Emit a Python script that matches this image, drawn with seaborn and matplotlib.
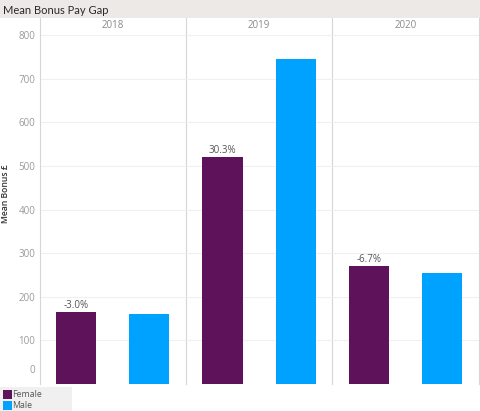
import matplotlib
matplotlib.use("Agg")
import matplotlib.pyplot as plt
import matplotlib.transforms as mtransforms
from matplotlib.patches import Rectangle
import seaborn as sns
import pandas as pd

years = ["2018", "2019", "2020"]
genders = ["Female", "Male"]
female_bonus = [164, 520, 270]
male_bonus = [160, 745, 254]
gap_labels = ["-3.0%", "30.3%", "-6.7%"]
y_ticks = [0, 100, 200, 300, 400, 500, 600, 700, 800]

colors = {"Female": "#5E1259", "Male": "#00A2FF"}

sns.set_theme(style="white")
plt.rcParams['font.family'] = ['Open Sans', 'DejaVu Sans']

W, H = 480, 411
fig = plt.figure(figsize=(W / 100, H / 100), dpi=100)
fig.patch.set_facecolor("white")

# title bar
fig.patches.append(Rectangle((0, 1 - 18 / H), 1, 18 / H, transform=fig.transFigure,
                             facecolor="#ECE9E6", edgecolor="none", zorder=0))
fig.text(3 / W, 1 - 10 / H, "Mean Bonus Pay Gap", ha="left", va="center",
         fontsize=8, color="#2A2A2A", family=["Lato", "DejaVu Sans"])

left_px, right_px = 39.5, 478.7
top_px, bottom_px = 18, 384
panel_w = (right_px - left_px) / 3
ymax = 839

axes = []
for i, yr in enumerate(years):
    ax = fig.add_axes([(left_px + i * panel_w) / W, 1 - bottom_px / H,
                       panel_w / W, (bottom_px - top_px) / H])
    ax.patch.set_alpha(0)
    df = pd.DataFrame({"Gender": genders,
                       "Bonus": [female_bonus[i], male_bonus[i]]})
    sns.barplot(data=df, x="Gender", y="Bonus", hue="Gender", order=genders,
                palette=colors, width=0.55, legend=False, ax=ax, zorder=3,
                edgecolor="none", saturation=1)
    ax.set_xlim(-0.5, 1.5)
    ax.set_ylim(0, ymax)
    ax.set_yticks(y_ticks)
    ax.set_xticks([])
    ax.set_xlabel("")
    ax.set_ylabel("")
    for yv in y_ticks[1:]:
        ax.axhline(yv, color="#F0F0F0", lw=0.8, zorder=1)
    for s in ["top", "bottom", "left"]:
        ax.spines[s].set_visible(False)
    ax.spines["right"].set_color("#D6D6D6")
    ax.spines["right"].set_linewidth(0.8)
    ax.spines["right"].set_zorder(5)
    ax.text(0.5, 1 - 8 / (bottom_px - top_px), yr, transform=ax.transAxes,
            ha="center", va="center", fontsize=7, color="#8A8A8A")
    ax.text(0, female_bonus[i] + 3, gap_labels[i], ha="center", va="bottom",
            fontsize=7, color="#555555")
    if i == 0:
        ax.spines["left"].set_visible(True)
        ax.spines["left"].set_color("#D6D6D6")
        ax.spines["left"].set_linewidth(0.8)
        ax.tick_params(axis="y", length=0, pad=3, labelsize=7, labelcolor="#9A9A9A")
        for lab in ax.get_yticklabels():
            if lab.get_text() == "0":
                lab.set_transform(lab.get_transform() +
                                  mtransforms.ScaledTranslation(0, 15 / 100, fig.dpi_scale_trans))
        ax.set_ylabel("Mean Bonus £", fontsize=6.2, color="#333333",
                      fontweight="semibold")
        ax.yaxis.set_label_coords((10 - left_px) / panel_w, 0.52)
    else:
        ax.set_yticklabels([])
        ax.tick_params(axis="y", length=0)
    axes.append(ax)

# legend
fig.patches.append(Rectangle((0, 0), 72 / W, 24 / H, transform=fig.transFigure,
                             facecolor="#F0F0F0", edgecolor="none", zorder=0))
for j, g in enumerate(genders):
    yc = 1 - (394 + j * 11) / H
    fig.patches.append(Rectangle((3 / W, yc - 4.5 / H), 9 / W, 9 / H,
                                 transform=fig.transFigure, facecolor=colors[g],
                                 edgecolor="none", zorder=2))
    fig.text(12.5 / W, yc, g, ha="left", va="center", fontsize=6.3, color="#555555")

fig.savefig("out.png", dpi=100)
